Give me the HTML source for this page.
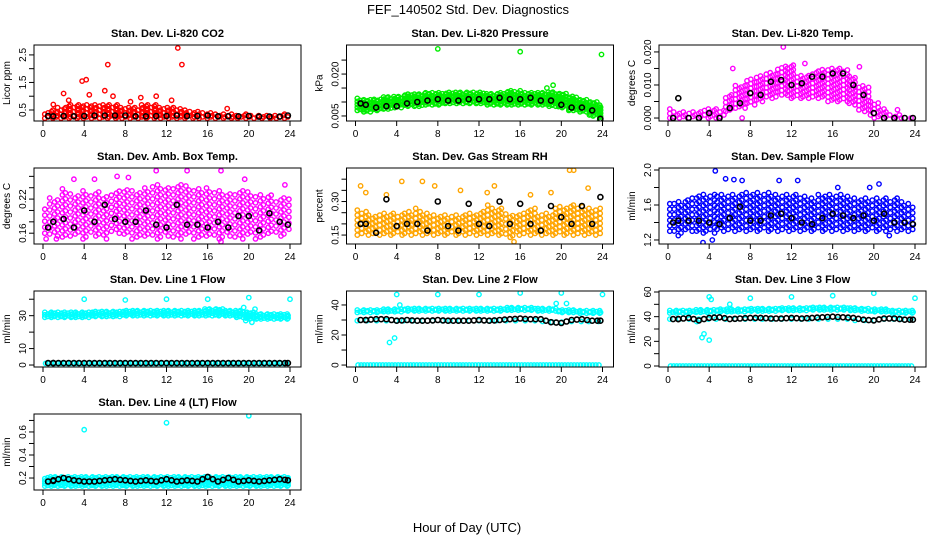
<!DOCTYPE html>
<html><head><meta charset="utf-8"><style>
html,body{margin:0;padding:0;background:#fff;}
svg{display:block;font-family:"Liberation Sans",sans-serif;}
</style></head><body>
<svg id="chart" width="936" height="540" viewBox="0 0 936 540" xmlns="http://www.w3.org/2000/svg">
<text x="468" y="14" font-size="13" text-anchor="middle">FEF_140502  Std. Dev. Diagnostics</text>
<text x="467" y="532" font-size="13" text-anchor="middle">Hour of Day (UTC)</text>
</svg>
<script>
const hours = [0,1,2,3,4,5,6,7,8,9,10,11,12,13,14,15,16,17,18,19,20,21,22,23,24];
const xTicks = [0,4,8,12,16,20,24];

const co2Lo = [0.2,0.2,0.2,0.2,0.2,0.2,0.2,0.2,0.2,0.2,0.2,0.2,0.2,0.2,0.2,0.2,0.2,0.2,0.2,0.2,0.2,0.2,0.2,0.2,0.2];
const co2Hi = [0.4,0.5,0.6,0.7,0.7,0.7,0.7,0.7,0.6,0.6,0.7,0.7,0.6,0.6,0.5,0.45,0.4,0.35,0.35,0.3,0.35,0.3,0.3,0.3,0.35];
const co2Black = [0.28,0.27,0.28,0.27,0.28,0.3,0.3,0.3,0.3,0.27,0.27,0.28,0.28,0.3,0.28,0.28,0.3,0.27,0.27,0.27,0.28,0.26,0.26,0.26,0.3];
const co2OutX = [2,3.8,4.2,6,6.3,13.1,13.5,1,17.9,4.5,11,9.5,6.8,2.5,8.5,12.5];
const co2OutY = [1.1,1.55,1.6,1.2,2.15,2.75,2.15,0.7,0.55,1.05,1.0,0.95,1.0,0.85,0.8,0.85];

const presLo = [0.007,0.0065,0.007,0.0075,0.008,0.0085,0.0085,0.009,0.009,0.0095,0.0095,0.0095,0.0095,0.009,0.009,0.009,0.009,0.009,0.009,0.0085,0.008,0.007,0.0065,0.005,0.0035];
const presHi = [0.0115,0.011,0.011,0.012,0.012,0.013,0.013,0.0135,0.0135,0.0135,0.0135,0.0135,0.0135,0.013,0.0135,0.014,0.0135,0.0135,0.0135,0.0135,0.013,0.012,0.011,0.010,0.009];
const presBlack = [0.0095,0.009,0.008,0.0085,0.0085,0.0095,0.010,0.0105,0.011,0.0105,0.0105,0.011,0.011,0.011,0.0115,0.011,0.011,0.0115,0.0105,0.0105,0.009,0.008,0.008,0.007,0.004];
const presOutX = [8,16,23.9,18.6,19.2,16];
const presOutY = [0.029,0.028,0.027,0.015,0.016,0.014];

const tempLo = [0,0,0,0,0,0,0.002,0.003,0.004,0.005,0.006,0.007,0.006,0.006,0.006,0.006,0.005,0.005,0.004,0.002,0,0,0,0,0];
const tempHi = [0.003,0.002,0.002,0.002,0.003,0.003,0.007,0.010,0.012,0.013,0.014,0.016,0.016,0.013,0.014,0.015,0.015,0.015,0.013,0.010,0.005,0.003,0.001,0,0];
const tempBlack = [0,0.006,0,0,0.0015,0,0.003,0.0045,0.0075,0.007,0.011,0.0115,0.010,0.0105,0.0125,0.0125,0.0135,0.0135,0.010,0.007,0.0015,0,0,0,0];
const tempOutX = [11.2,7.2,13.3,22.3,6.3,18.6];
const tempOutY = [0.0215,0,0.0165,0.0025,0.015,0.0155];

const ambLo = [0.16,0.155,0.15,0.155,0.15,0.155,0.15,0.16,0.155,0.15,0.155,0.15,0.155,0.15,0.155,0.15,0.155,0.15,0.155,0.15,0.155,0.15,0.16,0.155,0.16];
const ambHi = [0.21,0.225,0.24,0.23,0.235,0.235,0.225,0.235,0.24,0.235,0.24,0.245,0.245,0.245,0.245,0.24,0.24,0.235,0.235,0.235,0.235,0.23,0.23,0.225,0.22];
const ambBlack = [0.17,0.18,0.185,0.17,0.2,0.18,0.21,0.185,0.18,0.18,0.2,0.175,0.17,0.21,0.175,0.175,0.17,0.18,0.17,0.19,0.19,0.165,0.195,0.18,0.175];
const ambOutX = [11,14,17.3,7.2,5,3,0.3,1.3,17.3,8.3,19.6,23.5];
const ambOutY = [0.27,0.27,0.27,0.26,0.255,0.255,0.15,0.15,0.145,0.258,0.255,0.245];

const rhLo = [0.15,0.15,0.15,0.15,0.15,0.15,0.15,0.15,0.15,0.15,0.15,0.15,0.15,0.15,0.15,0.14,0.15,0.15,0.15,0.15,0.15,0.15,0.15,0.15,0.15];
const rhHi = [0.27,0.26,0.24,0.25,0.25,0.26,0.27,0.25,0.24,0.24,0.24,0.25,0.26,0.29,0.27,0.25,0.25,0.27,0.25,0.25,0.28,0.29,0.28,0.27,0.27];
const rhBlack = [0.2,0.2,0.16,0.31,0.19,0.2,0.2,0.17,0.3,0.19,0.17,0.29,0.2,0.19,0.3,0.2,0.29,0.2,0.17,0.28,0.23,0.2,0.28,0.2,0.32];
const rhOutX = [0.5,4.5,6.5,13.5,20.8,21.2,7.7,15.4,22.6,1,10.2,3,17,19,12.8];
const rhOutY = [0.37,0.39,0.39,0.37,0.44,0.44,0.37,0.12,0.36,0.34,0.35,0.33,0.33,0.34,0.34];

const flowLo = [1.3,1.28,1.3,1.28,1.28,1.3,1.3,1.3,1.3,1.3,1.3,1.3,1.3,1.3,1.3,1.3,1.3,1.3,1.3,1.3,1.3,1.3,1.3,1.3,1.3];
const flowHi = [1.62,1.65,1.68,1.72,1.72,1.72,1.72,1.72,1.76,1.76,1.76,1.72,1.72,1.72,1.68,1.72,1.72,1.72,1.68,1.68,1.68,1.68,1.68,1.65,1.62];
const flowBlack = [1.4,1.42,1.42,1.42,1.4,1.38,1.45,1.58,1.42,1.42,1.48,1.5,1.45,1.4,1.38,1.45,1.5,1.48,1.45,1.48,1.42,1.5,1.4,1.4,1.38];
const flowOutX = [4.6,6.4,5.6,10.8,12.6,20.5,3.4,4.3,1,21.5,7.2,16.5,19.6];
const flowOutY = [1.99,1.89,1.9,1.88,1.88,1.84,1.17,1.2,1.25,1.25,1.88,1.8,1.8];

const l1Lo = [29,29,29,29,29,29.5,29.5,29.5,30,30,30,30,30,30,30,30,30,30,30,29,28,28,28,28,28];
const l1Hi = [32,32,32,32,32,32.5,32.5,32.5,33,33,33,33,33,33,33,33,34,34,33,33,32,31,31,31,31];
const l1Base = [1,1,1,1,1,1,1,1,1,1,1,1,1,1,1,1,1,1,1,1,1,1,1,1,1];
const l1Black = [1.2,1.2,1.2,1.2,1.2,1.2,1.2,1.2,1.2,1.2,1.2,1.2,1.2,1.2,1.2,1.2,1.2,1.2,1.2,1.2,1.2,1.2,1.2,1.2,1.2];
const l1OutX = [4,8,12,16,20,24,19.5,19.7,20.3,20.6];
const l1OutY = [40,39.5,40,40,41,40,35,27,26,34];

const l2Lo = [35,35,35,35.5,35.5,36,36,36,36,36,36,36,36,36,36,36.5,36.5,36.5,36,36,35,35,34.5,34.5,34.5];
const l2Hi = [37,37,37,37.5,37.5,38,38,38,38,38,38,38,38,38,38,38.5,38.5,38.5,38,38,37,37,36.5,36.5,36.5];
const l2Mid = [29.5,29.5,29.5,29.5,29.5,29.5,29.5,29.5,29.5,29.5,29.5,29.5,29.5,29.5,29.5,29.5,29.5,29.5,29,28.5,28.5,29,29,29,29];
const l2Base = [0,0,0,0,0,0,0,0,0,0,0,0,0,0,0,0,0,0,0,0,0,0,0,0,0];
const l2Black = [30,30,30.5,30.5,29.5,30,29.5,29.5,30,29.5,29.5,29.5,30,29.5,30,30.5,31,30.5,30.5,28.5,28,30,30.5,29.5,29.5];
const l2OutX = [4,8,12,16,20,24,3.3,3.8,4.3,19.5,20.5];
const l2OutY = [47,47,47,48,48,47,15,18,40,41,41];

const l3Lo = [43,43,43,43.5,43.5,44,44,44,44.5,44.5,44.5,45,45,45,45.5,45.5,45.5,45.5,45,44.5,44,44,43,43,43];
const l3Hi = [45,45,45,45.5,45.5,46,46,46,46.5,46.5,46.5,47,47,47,47.5,47.5,47.5,47.5,47,46.5,46,46,45,45,45];
const l3Mid = [38,38,38,38,38,38,38,38,38,38,38,38,38,38,38,38,38,38,37,37,37,38,38,38,38];
const l3Base = [0,0,0,0,0,0,0,0,0,0,0,0,0,0,0,0,0,0,0,0,0,0,0,0,0];
const l3Black = [38,38,39,37,39,39.5,38,38.5,39,39,38.5,38.5,39,38.5,39,39.5,40,39.5,39,37.5,37,38.5,38.5,37.5,37.5];
const l3OutX = [4,4.2,8,12,16,20,24,6,3.3,3.5,4,2.8];
const l3OutY = [56,54,55,56,57,59,55,50,23,26,21,36];

const l4Lo = [0.13,0.13,0.13,0.13,0.13,0.13,0.13,0.13,0.13,0.13,0.13,0.13,0.13,0.13,0.13,0.13,0.13,0.13,0.13,0.13,0.13,0.13,0.13,0.13,0.13];
const l4Hi = [0.21,0.21,0.21,0.21,0.215,0.21,0.21,0.21,0.21,0.21,0.21,0.21,0.215,0.21,0.21,0.21,0.21,0.215,0.21,0.21,0.21,0.21,0.21,0.21,0.21];
const l4Black = [0.17,0.18,0.2,0.18,0.17,0.17,0.18,0.19,0.18,0.17,0.18,0.17,0.19,0.17,0.18,0.17,0.21,0.17,0.2,0.17,0.18,0.17,0.18,0.19,0.18];
const l4OutX = [4,12,20];
const l4OutY = [0.62,0.68,0.74];

const NS = "http://www.w3.org/2000/svg";
const svg = document.getElementById('chart');

function mk(tag, attrs, parent){
  const e = document.createElementNS(NS, tag);
  for (const k in attrs) e.setAttribute(k, attrs[k]);
  (parent||svg).appendChild(e);
  return e;
}

function panel(p){
  const left = 34 + p.col*312.5, right = left + 267;
  const top = 45 + p.row*123, bottom = top + 76;
  const x0 = left + 9, xw = 247;
  const xs = h => x0 + h/24*xw;
  const ys = v => bottom - (v - p.ymin)/(p.ymax - p.ymin)*76;
  const g = mk('g', {});
  
  
  const cl = mk('clipPath', {id: 'clip-' + p.name}, g);
  mk('rect', {x: left, y: top, width: 267, height: 76}, cl);
  const t = mk('text', {x: (left+right)/2, y: top - 8, 'font-size': 11, 'font-weight': 'bold', 'text-anchor': 'middle'}, g);
  t.textContent = p.title;
  
  
  const yl = mk('text', {x: 0, y: 0, 'font-size': 10, 'text-anchor': 'middle', transform: `translate(${left-24},${(top+bottom)/2}) rotate(-90)`}, g);
  yl.textContent = p.ylab;
  
  
  for (const h of xTicks){
    mk('line', {x1: xs(h), x2: xs(h), y1: bottom, y2: bottom+5, stroke: '#000', 'stroke-width': 1}, g);
    const tl = mk('text', {x: xs(h), y: bottom+16, 'font-size': 10, 'text-anchor': 'middle'}, g);
    tl.textContent = h;
    
    
  }
  for (const v of p.ticks){
    mk('line', {x1: left-5, x2: left, y1: ys(v), y2: ys(v), stroke: '#000', 'stroke-width': 1}, g);
  }
  for (const v of p.labels){
    const tl = mk('text', {x: 0, y: 0, 'font-size': 10, 'text-anchor': 'middle', transform: `translate(${left-8},${ys(v)}) rotate(-90)`}, g);
    tl.textContent = p.fmt(v);
    
    
  }
  const pg = mk('g', {'clip-path': `url(#clip-${p.name})`, fill: 'none', 'stroke-width': 1.4}, g);
  const dot = (h, v, col, r) => mk('circle', {cx: xs(h).toFixed(1), cy: ys(v).toFixed(1), r: r||2.2, stroke: col}, pg);
  for (const b of p.bands){
    const cloud = mk('g', {}, pg);
    
    
    let col = 0;
    for (let h = 0.25; h <= 23.9; h += b.dx, col++){
      const i = Math.round(h);
      const yTop = ys(b.hi[i]), yBot = ys(b.lo[i]);
      const off = (col % 3) * b.dy / 3;
      const dxs = ((col * 7) % 5 - 2) * 0.4;
      for (let yy = yBot - off; yy >= yTop - 0.1; yy -= b.dy){
        mk('circle', {cx: (xs(h)+dxs).toFixed(1), cy: yy.toFixed(1), r: 2.2, stroke: b.color}, cloud);
      }
    }
  }
  for (const b of p.lines || []){
    for (let h = 0.25; h <= 23.9; h += 0.3){
      const i = Math.round(h);
      const c = dot(h, b.vals[i], b.color);
      
      
    }
  }
  for (let i = 0; i < p.outX.length; i++){
    const c = dot(p.outX[i], p.outY[i], p.color);
    
    
  }
  for (let i = 0; i < hours.length; i++){
    const h = Math.min(23.8, Math.max(0.5, hours[i]));
    const c = dot(h, p.black[i], '#000', 2.5);
    c.setAttribute('stroke-width', '1.6');
    
    
    if (i < hours.length-1 && p.blackDense){
      const c2 = dot(h+0.5, (p.black[i]+p.black[i+1])/2, '#000', 2.5);
      c2.setAttribute('stroke-width', '1.6');
      
      
    }
  }
  const box = mk('rect', {x: left, y: top, width: 267, height: 76, fill: 'none', stroke: '#000', 'stroke-width': 1}, g);
  
  
}

const f1 = v => v.toFixed(1), f3 = v => v.toFixed(3), f2 = v => v.toFixed(2), f0 = v => String(v);

panel({name:'co2', col:0,row:0,title:'Stan. Dev. Li-820 CO2', ylab:'Licor ppm', ymin:0.1,ymax:2.86,
  ticks:[0.5,1,1.5,2,2.5], labels:[0.5,1.5,2.5], fmt:f1, color:'#ff0000',
  bands:[{lo:co2Lo,hi:co2Hi,color:'#ff0000',dx:0.25,dy:4}], black:co2Black, outX:co2OutX,outY:co2OutY});
panel({name:'pressure', col:1,row:0,title:'Stan. Dev. Li-820 Pressure', ylab:'kPa', ymin:0.0032,ymax:0.0304,
  ticks:[0.005,0.01,0.015,0.02,0.025], labels:[0.005,0.020], fmt:f3, color:'#00ee00',
  bands:[{lo:presLo,hi:presHi,color:'#00ee00',dx:0.2,dy:3}], black:presBlack, outX:presOutX,outY:presOutY});
panel({name:'temp', col:2,row:0,title:'Stan. Dev. Li-820 Temp.', ylab:'degrees C', ymin:-0.0009,ymax:0.0221,
  ticks:[0,0.005,0.01,0.015,0.02], labels:[0,0.01,0.02], fmt:f3, color:'#ff00ff',
  bands:[{lo:tempLo,hi:tempHi,color:'#ff00ff',dx:0.3,dy:4.5}], black:tempBlack, outX:tempOutX,outY:tempOutY});
panel({name:'amb-box-temp', col:0,row:1,title:'Stan. Dev. Amb. Box Temp.', ylab:'degrees C', ymin:0.141,ymax:0.2747,
  ticks:[0.16,0.18,0.2,0.22,0.24,0.26], labels:[0.16,0.22], fmt:f2, color:'#ff00ff',
  bands:[{lo:ambLo,hi:ambHi,color:'#ff00ff',dx:0.4,dy:6}], black:ambBlack, outX:ambOutX,outY:ambOutY});
panel({name:'gas-rh', col:1,row:1,title:'Stan. Dev. Gas Stream RH', ylab:'percent', ymin:0.11,ymax:0.45,
  ticks:[0.15,0.2,0.25,0.3,0.35,0.4], labels:[0.15,0.3], fmt:f2, color:'#ffa500',
  bands:[{lo:rhLo,hi:rhHi,color:'#ffa500',dx:0.35,dy:5}], black:rhBlack, outX:rhOutX,outY:rhOutY});
panel({name:'sample-flow', col:2,row:1,title:'Stan. Dev. Sample Flow', ylab:'ml/min', ymin:1.154,ymax:2.023,
  ticks:[1.2,1.4,1.6,1.8,2.0], labels:[1.2,1.6,2.0], fmt:f1, color:'#0000ff',
  bands:[{lo:flowLo,hi:flowHi,color:'#0000ff',dx:0.35,dy:5.5}], black:flowBlack, outX:flowOutX,outY:flowOutY});
panel({name:'line1-flow', col:0,row:2,title:'Stan. Dev. Line 1 Flow', ylab:'ml/min', ymin:-1.2,ymax:45,
  ticks:[0,10,20,30,40], labels:[0,10,30], fmt:f0, color:'#00ffff',
  bands:[{lo:l1Lo,hi:l1Hi,color:'#00ffff',dx:0.2,dy:2.5}], lines:[{vals:l1Base,color:'#00ffff'}],
  black:l1Black, blackDense:true, outX:l1OutX,outY:l1OutY});
panel({name:'line2-flow', col:1,row:2,title:'Stan. Dev. Line 2 Flow', ylab:'ml/min', ymin:-1.3,ymax:49.3,
  ticks:[0,10,20,30,40], labels:[0,20,40], fmt:f0, color:'#00ffff',
  bands:[{lo:l2Lo,hi:l2Hi,color:'#00ffff',dx:0.2,dy:2.5},{lo:l2Mid,hi:l2Mid,color:'#00ffff',dx:0.3,dy:3}],
  lines:[{vals:l2Base,color:'#00ffff'}], black:l2Black, blackDense:true, outX:l2OutX,outY:l2OutY});
panel({name:'line3-flow', col:2,row:2,title:'Stan. Dev. Line 3 Flow', ylab:'ml/min', ymin:-0.8,ymax:60.8,
  ticks:[0,10,20,30,40,50,60], labels:[0,20,40,60], fmt:f0, color:'#00ffff',
  bands:[{lo:l3Lo,hi:l3Hi,color:'#00ffff',dx:0.2,dy:2.5},{lo:l3Mid,hi:l3Mid,color:'#00ffff',dx:0.3,dy:3}],
  lines:[{vals:l3Base,color:'#00ffff'}], black:l3Black, blackDense:true, outX:l3OutX,outY:l3OutY});
panel({name:'line4-flow', col:0,row:3,title:'Stan. Dev. Line 4 (LT) Flow', ylab:'ml/min', ymin:0.096,ymax:0.756,
  ticks:[0.2,0.3,0.4,0.5,0.6,0.7], labels:[0.2,0.4,0.6], fmt:f1, color:'#00ffff',
  bands:[{lo:l4Lo,hi:l4Hi,color:'#00ffff',dx:0.2,dy:2.5}], black:l4Black, blackDense:true, outX:l4OutX,outY:l4OutY});
</script>
</body></html>
